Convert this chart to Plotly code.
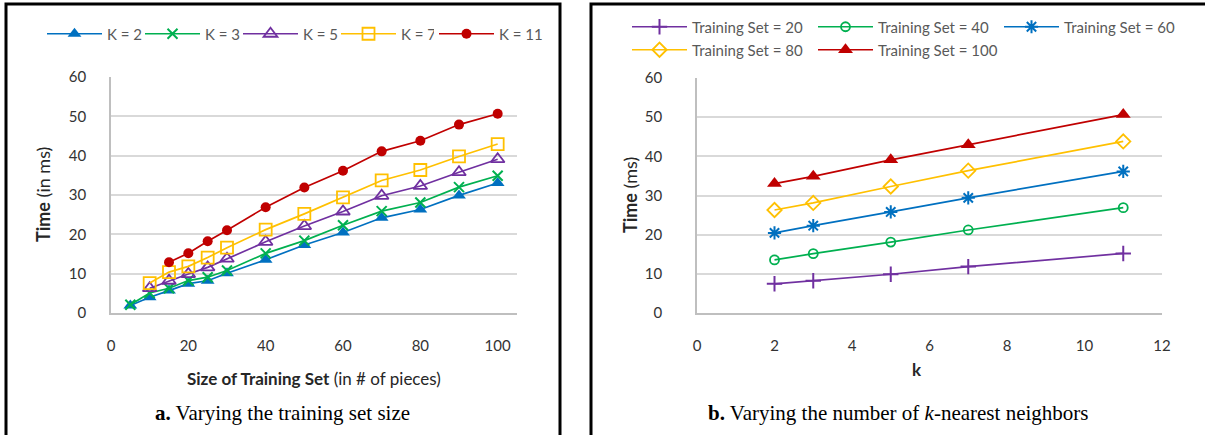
import plotly.graph_objects as go

W, H = 1205, 435

# Left panel: running time vs. training set size, one series per K
sizes = [5, 10, 15, 20, 25, 30, 40, 50, 60, 70, 80, 90, 100]
time_k2 = [1.9, 4.0, 5.7, 7.45, 8.2, 10.1, 13.55, 17.3, 20.45, 24.2, 26.3, 29.9, 33.05]
time_k3 = [2.1, 5.1, 6.3, 8.25, 9.1, 10.8, 15.15, 18.4, 22.3, 25.9, 28.1, 32.0, 34.9]
time_k5 = [None, 6.3, 8.2, 9.9, 11.6, 13.8, 18.1, 22.1, 25.8, 29.8, 32.3, 35.8, 39.1]
time_k7 = [None, 7.6, 10.4, 11.85, 14.1, 16.6, 21.2, 25.2, 29.4, 33.7, 36.35, 39.8, 42.95]
time_k11 = [None, None, 12.9, 15.2, 18.25, 21.05, 26.9, 31.9, 36.15, 41.1, 43.8, 47.9, 50.65]

k_values = [2, 3, 5, 7, 11]
k_series = [time_k2, time_k3, time_k5, time_k7, time_k11]
k_names = ["K = 2", "K = 3", "K = 5", "K = 7", "K = 11"]
# the widest label gets its own legend box so its text is not clipped
k_legend_ids = ["legend", "legend", "legend", "legend", "legend4"]

# Right panel: same measurements, one series per training set size
ts_sizes = [20, 40, 60, 80, 100]
ts_names = ["Training Set = 20", "Training Set = 40", "Training Set = 60",
            "Training Set = 80", "Training Set = 100"]
ts_legend_ids = ["legend2", "legend2", "legend2", "legend3", "legend3"]

BLUE, GREEN, PURPLE, GOLD, RED = "#0070C0", "#00B050", "#7030A0", "#FFC000", "#C00000"

k_styles = [
    dict(color=BLUE, symbol="triangle-up", size=12),
    dict(color=GREEN, symbol="x-thin-open", size=10, line=dict(width=2, color=GREEN)),
    dict(color=PURPLE, symbol="triangle-up-open", size=12, line=dict(width=1.8, color=PURPLE)),
    dict(color=GOLD, symbol="square-open", size=12, line=dict(width=1.8, color=GOLD)),
    dict(color=RED, symbol="circle", size=10),
]
ts_styles = [
    dict(color=PURPLE, symbol="cross-thin-open", size=11, line=dict(width=2, color=PURPLE)),
    dict(color=GREEN, symbol="circle-open", size=9, line=dict(width=1.8, color=GREEN)),
    dict(color=BLUE, symbol="asterisk-open", size=11, line=dict(width=2, color=BLUE)),
    dict(color=GOLD, symbol="diamond-open", size=11, line=dict(width=1.8, color=GOLD)),
    dict(color=RED, symbol="triangle-up", size=13),
]


def px_x(x):
    return x / W


def px_y(y):
    return 1 - y / H


fig = go.Figure()

for name, ys, st, lg in zip(k_names, k_series, k_styles, k_legend_ids):
    fig.add_trace(go.Scatter(
        x=sizes, y=ys, mode="lines+markers", name=name,
        line=dict(color=st["color"], width=1.7),
        marker=st, xaxis="x", yaxis="y", legend=lg,
    ))

for name, ts, st, lg in zip(ts_names, ts_sizes, ts_styles, ts_legend_ids):
    idx = sizes.index(ts)
    ys = [series[idx] for series in k_series]
    fig.add_trace(go.Scatter(
        x=k_values, y=ys, mode="lines+markers", name=name,
        line=dict(color=st["color"], width=1.7),
        marker=st, xaxis="x2", yaxis="y2", legend=lg,
    ))

FONT = "Lato, 'Open Sans', sans-serif"
TICKFONT = dict(family=FONT, size=15, color="#333333")
TITLEFONT = dict(family=FONT, size=17, color="#262626")
YTITLEFONT = dict(family=FONT, size=18, color="#262626")
LEGFONT = dict(family=FONT, size=15, color="#595959")
CAPFONT = dict(family="'Liberation Serif', 'Times New Roman', serif", size=21, color="#000000")
GRID = "#D9D9D9"
AXIS = "#BFBFBF"

common_y = dict(range=[0, 60], dtick=10, showgrid=True, gridcolor=GRID, gridwidth=1.5,
                showline=True, linecolor=AXIS, linewidth=1.5, zeroline=False,
                tickfont=TICKFONT, ticks="")
common_x = dict(showgrid=False, showline=True, linecolor=AXIS, linewidth=1.5,
                zeroline=False, tickfont=TICKFONT, ticks="", ticklabelstandoff=18)

legend_common = dict(orientation="h", xanchor="left", yanchor="middle", font=LEGFONT,
                     entrywidthmode="pixels", itemwidth=55,
                     bgcolor="rgba(0,0,0,0)", traceorder="normal")

fig.update_layout(
    width=W, height=H,
    margin=dict(l=0, r=0, t=0, b=0, autoexpand=False),
    paper_bgcolor="white", plot_bgcolor="white",
    font=dict(family=FONT, color="#333333"),
    xaxis=dict(domain=[px_x(111), px_x(517)], range=[0, 105], tickvals=[0, 20, 40, 60, 80, 100],
               anchor="y", **common_x),
    yaxis=dict(domain=[px_y(313), px_y(77)], anchor="x", ticklabelstandoff=20, **common_y),
    xaxis2=dict(domain=[px_x(697), px_x(1162)], range=[0, 12], dtick=2,
                anchor="y2", **common_x),
    yaxis2=dict(domain=[px_y(313), px_y(78)], anchor="x2", ticklabelstandoff=30, **common_y),
    legend=dict(x=px_x(42), y=px_y(34), entrywidth=28, **legend_common),
    legend4=dict(x=px_x(42 + 4 * 98), y=px_y(34), entrywidth=50, **legend_common),
    legend2=dict(x=px_x(627), y=px_y(27), entrywidth=116, **legend_common),
    legend3=dict(x=px_x(627), y=px_y(50), entrywidth=116, **legend_common),
    showlegend=True,
)

annotations = [
    dict(text="<b>Time</b> (in ms)", x=px_x(43), y=px_y(195), textangle=-90, font=YTITLEFONT),
    dict(text="<b>Time</b> (ms)", x=px_x(630), y=px_y(195), textangle=-90, font=YTITLEFONT),
    dict(text="<b>Size of Training Set</b> (in # of pieces)", x=px_x(314), y=px_y(378),
         font=TITLEFONT),
    dict(text="<b>k</b>", x=px_x(917), y=px_y(369), font=TITLEFONT),
    dict(text="<b>a.</b> Varying the training set size", x=px_x(282), y=px_y(413), font=CAPFONT),
    dict(text="<b>b.</b> Varying the number of <i>k</i>-nearest neighbors", x=px_x(898),
         y=px_y(413), font=CAPFONT),
]
for a in annotations:
    a.update(xref="paper", yref="paper", showarrow=False, xanchor="center", yanchor="middle")
fig.update_layout(annotations=annotations)

# Panel frames
for x0, x1 in [(6, 560), (591, 1210)]:
    fig.add_shape(type="rect", xref="paper", yref="paper",
                  x0=px_x(x0), x1=px_x(x1), y0=px_y(445), y1=px_y(4),
                  line=dict(color="black", width=3), fillcolor="rgba(0,0,0,0)", layer="above")

fig.write_html("out.html")
